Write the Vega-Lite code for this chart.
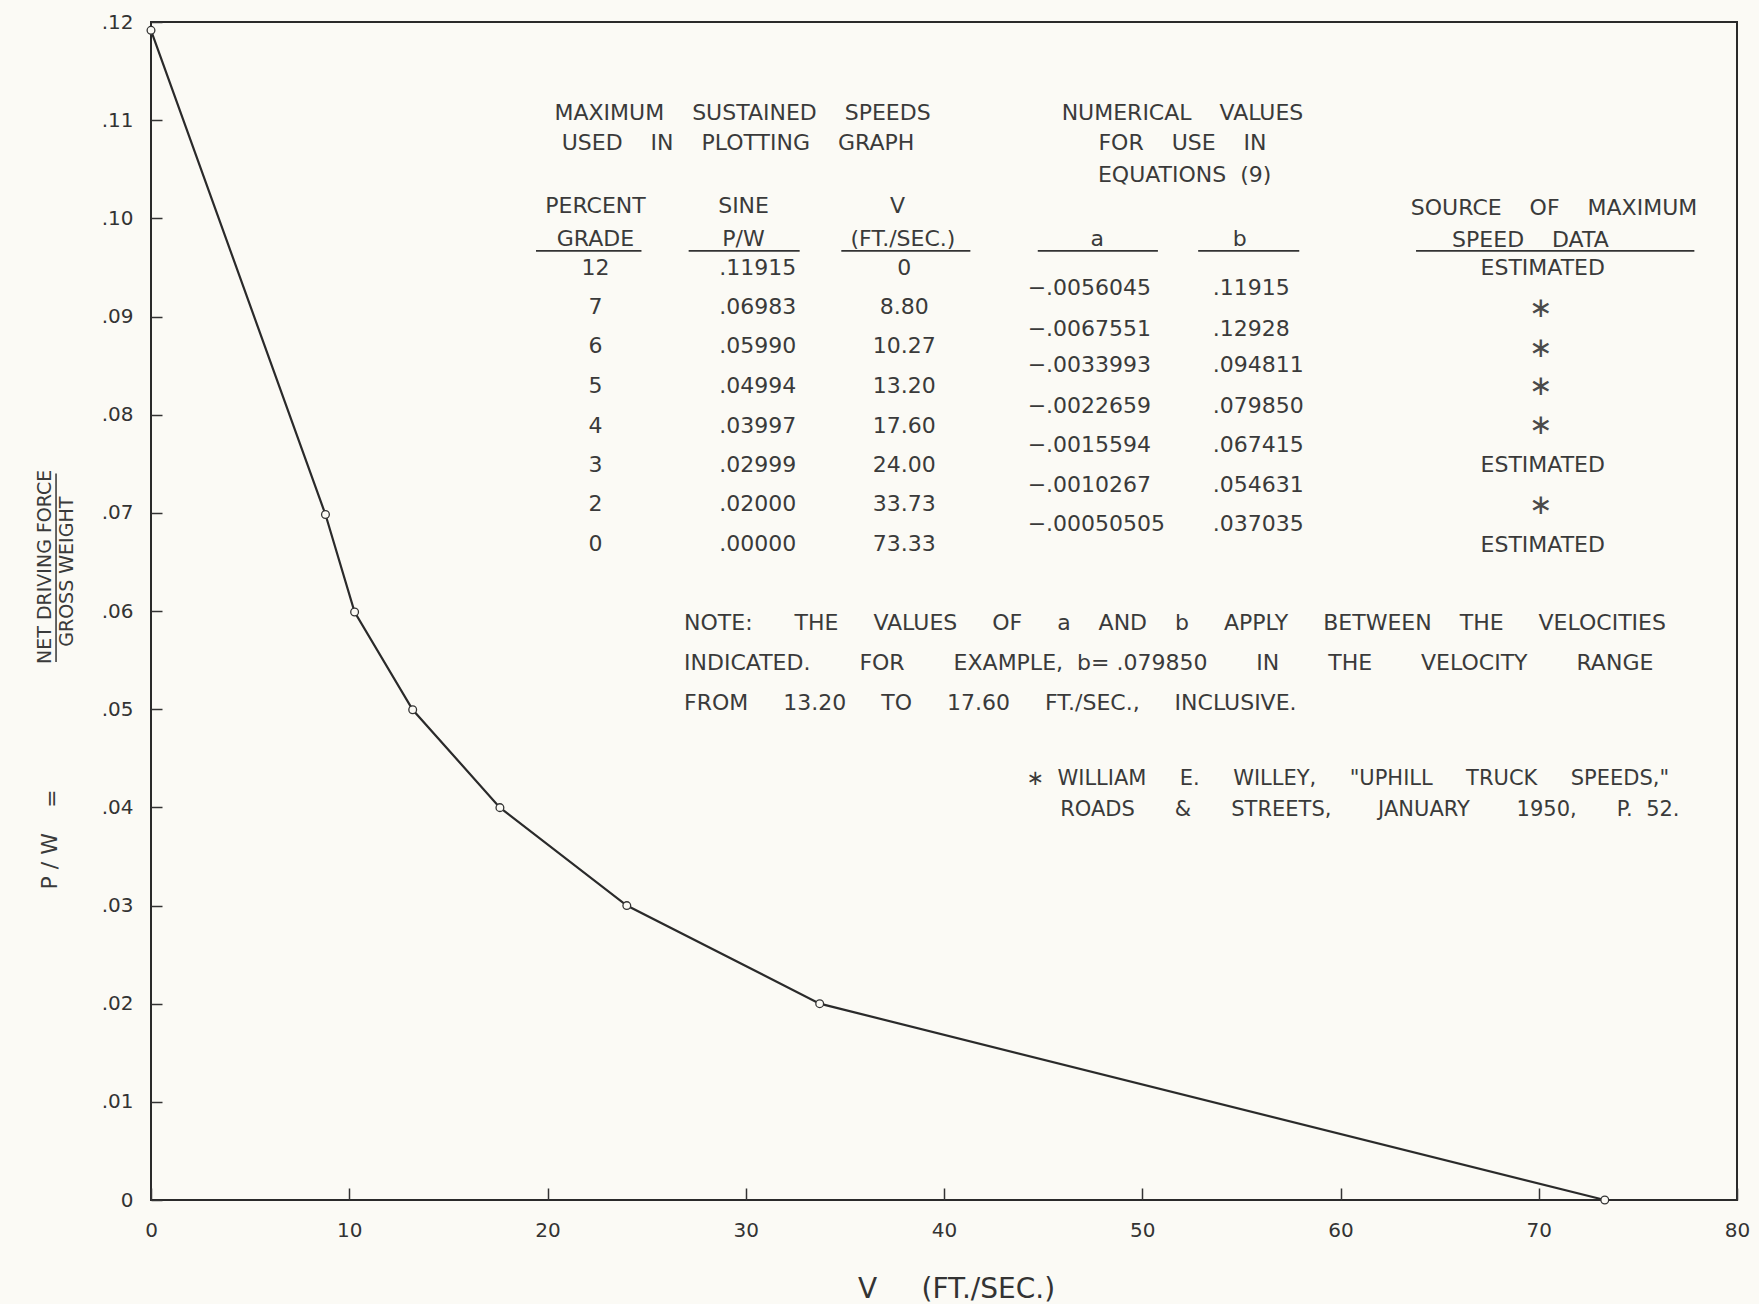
{
  "$schema": "https://vega.github.io/schema/vega-lite/v6.json",
  "width": 1586,
  "height": 1178,
  "autosize": {"type": "none"},
  "padding": {"left": 151, "top": 22, "right": 22, "bottom": 104},
  "background": "#fbfaf5",
  "config": {
    "view": {"stroke": "#2a2a2a", "strokeWidth": 2},
    "font": "DejaVu Sans",
    "axis": {
      "grid": false,
      "domain": false,
      "tickColor": "#333333",
      "tickWidth": 1.5,
      "labelFont": "DejaVu Sans",
      "labelFontSize": 20,
      "labelColor": "#333333",
      "titleFont": "DejaVu Sans",
      "titleColor": "#333333",
      "titleFontWeight": "normal"
    }
  },
  "datasets": {
    "curve": [
      {"v": 0, "pw": 0.11915, "grade": 12},
      {"v": 8.80, "pw": 0.06983, "grade": 7},
      {"v": 10.27, "pw": 0.05990, "grade": 6},
      {"v": 13.20, "pw": 0.04994, "grade": 5},
      {"v": 17.60, "pw": 0.03997, "grade": 4},
      {"v": 24.00, "pw": 0.02999, "grade": 3},
      {"v": 33.73, "pw": 0.02000, "grade": 2},
      {"v": 73.33, "pw": 0.00000, "grade": 0}
    ],
    "centerText": [
      {"x": 29.84, "y": 0.11074, "t": "MAXIMUM\u00a0\u00a0\u00a0\u00a0SUSTAINED\u00a0\u00a0\u00a0\u00a0SPEEDS"},
      {"x": 29.61, "y": 0.10766, "t": "USED\u00a0\u00a0\u00a0\u00a0IN\u00a0\u00a0\u00a0\u00a0PLOTTING\u00a0\u00a0\u00a0\u00a0GRAPH"},
      {"x": 22.42, "y": 0.10126, "t": "PERCENT"},
      {"x": 22.42, "y": 0.09794, "t": "GRADE"},
      {"x": 29.89, "y": 0.10126, "t": "SINE"},
      {"x": 29.89, "y": 0.09794, "t": "P/W"},
      {"x": 37.65, "y": 0.10126, "t": "V"},
      {"x": 37.93, "y": 0.09794, "t": "(FT./SEC.)"},
      {"x": 22.42, "y": 0.09497, "t": "12"},
      {"x": 22.42, "y": 0.09097, "t": "7"},
      {"x": 22.42, "y": 0.08697, "t": "6"},
      {"x": 22.42, "y": 0.08297, "t": "5"},
      {"x": 22.42, "y": 0.07886, "t": "4"},
      {"x": 22.42, "y": 0.07486, "t": "3"},
      {"x": 22.42, "y": 0.07086, "t": "2"},
      {"x": 22.42, "y": 0.06686, "t": "0"},
      {"x": 30.6, "y": 0.09497, "t": ".11915"},
      {"x": 30.6, "y": 0.09097, "t": ".06983"},
      {"x": 30.6, "y": 0.08697, "t": ".05990"},
      {"x": 30.6, "y": 0.08297, "t": ".04994"},
      {"x": 30.6, "y": 0.07886, "t": ".03997"},
      {"x": 30.6, "y": 0.07486, "t": ".02999"},
      {"x": 30.6, "y": 0.07086, "t": ".02000"},
      {"x": 30.6, "y": 0.06686, "t": ".00000"},
      {"x": 37.99, "y": 0.09497, "t": "0"},
      {"x": 37.99, "y": 0.09097, "t": "8.80"},
      {"x": 37.99, "y": 0.08697, "t": "10.27"},
      {"x": 37.99, "y": 0.08297, "t": "13.20"},
      {"x": 37.99, "y": 0.07886, "t": "17.60"},
      {"x": 37.99, "y": 0.07486, "t": "24.00"},
      {"x": 37.99, "y": 0.07086, "t": "33.73"},
      {"x": 37.99, "y": 0.06686, "t": "73.33"},
      {"x": 52.03, "y": 0.11074, "t": "NUMERICAL\u00a0\u00a0\u00a0\u00a0VALUES"},
      {"x": 52.03, "y": 0.10766, "t": "FOR\u00a0\u00a0\u00a0\u00a0USE\u00a0\u00a0\u00a0\u00a0IN"},
      {"x": 52.14, "y": 0.10446, "t": "EQUATIONS\u00a0\u00a0(9)"},
      {"x": 47.73, "y": 0.09794, "t": "a"},
      {"x": 54.92, "y": 0.09794, "t": "b"},
      {"x": 70.77, "y": 0.10103, "t": "SOURCE\u00a0\u00a0\u00a0\u00a0OF\u00a0\u00a0\u00a0\u00a0MAXIMUM"},
      {"x": 69.58, "y": 0.09783, "t": "SPEED\u00a0\u00a0\u00a0\u00a0DATA"},
      {"x": 70.2, "y": 0.09497, "t": "ESTIMATED"},
      {"x": 70.2, "y": 0.07486, "t": "ESTIMATED"},
      {"x": 70.2, "y": 0.06674, "t": "ESTIMATED"}
    ],
    "stars": [
      {"x": 70.1, "y": 0.09074, "t": "\u2217"},
      {"x": 70.1, "y": 0.08674, "t": "\u2217"},
      {"x": 70.1, "y": 0.08286, "t": "\u2217"},
      {"x": 70.1, "y": 0.07886, "t": "\u2217"},
      {"x": 70.1, "y": 0.07074, "t": "\u2217"}
    ],
    "leftText": [
      {"x": 44.22, "y": 0.09291, "t": "\u2212.0056045"},
      {"x": 44.22, "y": 0.08869, "t": "\u2212.0067551"},
      {"x": 44.22, "y": 0.08503, "t": "\u2212.0033993"},
      {"x": 44.22, "y": 0.08091, "t": "\u2212.0022659"},
      {"x": 44.22, "y": 0.07691, "t": "\u2212.0015594"},
      {"x": 44.22, "y": 0.07280, "t": "\u2212.0010267"},
      {"x": 44.22, "y": 0.06891, "t": "\u2212.00050505"},
      {"x": 53.56, "y": 0.09291, "t": ".11915"},
      {"x": 53.56, "y": 0.08869, "t": ".12928"},
      {"x": 53.56, "y": 0.08503, "t": ".094811"},
      {"x": 53.56, "y": 0.08091, "t": ".079850"},
      {"x": 53.56, "y": 0.07691, "t": ".067415"},
      {"x": 53.56, "y": 0.07280, "t": ".054631"},
      {"x": 53.56, "y": 0.06891, "t": ".037035"}
    ],
    "noteText": [
      {"x": 26.89, "y": 0.05874, "t": "NOTE:\u00a0\u00a0\u00a0\u00a0\u00a0\u00a0THE\u00a0\u00a0\u00a0\u00a0\u00a0VALUES\u00a0\u00a0\u00a0\u00a0\u00a0OF\u00a0\u00a0\u00a0\u00a0\u00a0a\u00a0\u00a0\u00a0\u00a0AND\u00a0\u00a0\u00a0\u00a0b\u00a0\u00a0\u00a0\u00a0\u00a0APPLY\u00a0\u00a0\u00a0\u00a0\u00a0BETWEEN\u00a0\u00a0\u00a0\u00a0THE\u00a0\u00a0\u00a0\u00a0\u00a0VELOCITIES"},
      {"x": 26.89, "y": 0.05474, "t": "INDICATED.\u00a0\u00a0\u00a0\u00a0\u00a0\u00a0\u00a0FOR\u00a0\u00a0\u00a0\u00a0\u00a0\u00a0\u00a0EXAMPLE,\u00a0\u00a0b=\u00a0.079850\u00a0\u00a0\u00a0\u00a0\u00a0\u00a0\u00a0IN\u00a0\u00a0\u00a0\u00a0\u00a0\u00a0\u00a0THE\u00a0\u00a0\u00a0\u00a0\u00a0\u00a0\u00a0VELOCITY\u00a0\u00a0\u00a0\u00a0\u00a0\u00a0\u00a0RANGE"},
      {"x": 26.89, "y": 0.05063, "t": "FROM\u00a0\u00a0\u00a0\u00a0\u00a013.20\u00a0\u00a0\u00a0\u00a0\u00a0TO\u00a0\u00a0\u00a0\u00a0\u00a017.60\u00a0\u00a0\u00a0\u00a0\u00a0FT./SEC.,\u00a0\u00a0\u00a0\u00a0\u00a0INCLUSIVE."}
    ],
    "footText": [
      {"x": 44.16, "y": 0.04286, "t": "\u2217\u00a0\u00a0WILLIAM\u00a0\u00a0\u00a0\u00a0\u00a0E.\u00a0\u00a0\u00a0\u00a0\u00a0WILLEY,\u00a0\u00a0\u00a0\u00a0\u00a0\"UPHILL\u00a0\u00a0\u00a0\u00a0\u00a0TRUCK\u00a0\u00a0\u00a0\u00a0\u00a0SPEEDS,\""},
      {"x": 45.86, "y": 0.03977, "t": "ROADS\u00a0\u00a0\u00a0\u00a0\u00a0\u00a0&\u00a0\u00a0\u00a0\u00a0\u00a0\u00a0STREETS,\u00a0\u00a0\u00a0\u00a0\u00a0\u00a0\u00a0JANUARY\u00a0\u00a0\u00a0\u00a0\u00a0\u00a0\u00a01950,\u00a0\u00a0\u00a0\u00a0\u00a0\u00a0P.\u00a0\u00a052."}
    ],
    "underlines": [
      {"x": 19.42, "x2": 24.74, "y": 0.09669},
      {"x": 27.12, "x2": 32.72, "y": 0.09669},
      {"x": 34.82, "x2": 41.33, "y": 0.09669},
      {"x": 44.73, "x2": 50.79, "y": 0.09669},
      {"x": 52.82, "x2": 57.92, "y": 0.09669},
      {"x": 63.81, "x2": 77.85, "y": 0.09669}
    ],
    "yTitle": [
      {"x": -5.35, "y": 0.0645, "t": "NET\u00a0DRIVING\u00a0FORCE"},
      {"x": -4.24, "y": 0.0640, "t": "GROSS\u00a0WEIGHT"}
    ],
    "yTitleBig": [
      {"x": -4.99, "y": 0.0409, "t": "="},
      {"x": -5.09, "y": 0.0345, "t": "P\u00a0/\u00a0W"}
    ],
    "fractionLine": [
      {"x": -4.79, "y": 0.0740, "y2": 0.0548}
    ]
  },
  "layer": [
    {
      "data": {"name": "curve"},
      "mark": {"type": "line", "color": "#2a2a2a", "strokeWidth": 2.2},
      "encoding": {
        "x": {
          "field": "v", "type": "quantitative",
          "scale": {"domain": [0, 80], "nice": false},
          "axis": {
            "title": "V\u00a0\u00a0\u00a0\u00a0\u00a0(FT./SEC.)",
            "titleFontSize": 28,
            "titleY": 89,
            "titleX": 805,
            "titleAlign": "center",
            "titleBaseline": "middle",
            "values": [0, 10, 20, 30, 40, 50, 60, 70, 80],
            "tickSize": -12,
            "labelPadding": 32,
            "labelFlush": false
          }
        },
        "y": {
          "field": "pw", "type": "quantitative",
          "scale": {"domain": [0, 0.12], "nice": false},
          "axis": {
            "title": null,
            "values": [0, 0.01, 0.02, 0.03, 0.04, 0.05, 0.06, 0.07, 0.08, 0.09, 0.10, 0.11, 0.12],
            "tickSize": -11,
            "labelPadding": 29,
            "labelFlush": false,
            "labelExpr": "datum.value == 0 ? '0' : replace(format(datum.value, '.2f'), '0.', '.')"
          }
        }
      }
    },
    {
      "data": {"name": "curve"},
      "mark": {"type": "point", "shape": "circle", "filled": true, "fill": "#fbfaf5", "stroke": "#333333", "strokeWidth": 1.3, "size": 60, "opacity": 1},
      "encoding": {
        "x": {"field": "v", "type": "quantitative"},
        "y": {"field": "pw", "type": "quantitative"}
      }
    },
    {
      "data": {"name": "centerText"},
      "mark": {"type": "text", "font": "DejaVu Sans", "fontSize": 22, "color": "#3a3a3a", "align": "center", "baseline": "middle"},
      "encoding": {
        "x": {"field": "x", "type": "quantitative"},
        "y": {"field": "y", "type": "quantitative"},
        "text": {"field": "t"}
      }
    },
    {
      "data": {"name": "stars"},
      "mark": {"type": "text", "font": "DejaVu Sans", "fontSize": 28, "color": "#4a4a4a", "align": "center", "baseline": "middle"},
      "encoding": {
        "x": {"field": "x", "type": "quantitative"},
        "y": {"field": "y", "type": "quantitative"},
        "text": {"field": "t"}
      }
    },
    {
      "data": {"name": "leftText"},
      "mark": {"type": "text", "font": "DejaVu Sans", "fontSize": 22, "color": "#3a3a3a", "align": "left", "baseline": "middle"},
      "encoding": {
        "x": {"field": "x", "type": "quantitative"},
        "y": {"field": "y", "type": "quantitative"},
        "text": {"field": "t"}
      }
    },
    {
      "data": {"name": "noteText"},
      "mark": {"type": "text", "font": "DejaVu Sans", "fontSize": 22, "color": "#3a3a3a", "align": "left", "baseline": "middle"},
      "encoding": {
        "x": {"field": "x", "type": "quantitative"},
        "y": {"field": "y", "type": "quantitative"},
        "text": {"field": "t"}
      }
    },
    {
      "data": {"name": "footText"},
      "mark": {"type": "text", "font": "DejaVu Sans", "fontSize": 21, "color": "#3a3a3a", "align": "left", "baseline": "middle"},
      "encoding": {
        "x": {"field": "x", "type": "quantitative"},
        "y": {"field": "y", "type": "quantitative"},
        "text": {"field": "t"}
      }
    },
    {
      "data": {"name": "underlines"},
      "mark": {"type": "rule", "color": "#333333", "strokeWidth": 1.6},
      "encoding": {
        "x": {"field": "x", "type": "quantitative"},
        "x2": {"field": "x2"},
        "y": {"field": "y", "type": "quantitative"}
      }
    },
    {
      "data": {"name": "yTitle"},
      "mark": {"type": "text", "font": "DejaVu Sans", "fontSize": 19, "color": "#3a3a3a", "align": "center", "baseline": "middle", "angle": 270},
      "encoding": {
        "x": {"field": "x", "type": "quantitative"},
        "y": {"field": "y", "type": "quantitative"},
        "text": {"field": "t"}
      }
    },
    {
      "data": {"name": "yTitleBig"},
      "mark": {"type": "text", "font": "DejaVu Sans", "fontSize": 22, "color": "#3a3a3a", "align": "center", "baseline": "middle", "angle": 270},
      "encoding": {
        "x": {"field": "x", "type": "quantitative"},
        "y": {"field": "y", "type": "quantitative"},
        "text": {"field": "t"}
      }
    },
    {
      "data": {"name": "fractionLine"},
      "mark": {"type": "rule", "color": "#333333", "strokeWidth": 1.5},
      "encoding": {
        "x": {"field": "x", "type": "quantitative"},
        "y": {"field": "y", "type": "quantitative"},
        "y2": {"field": "y2"}
      }
    }
  ]
}
